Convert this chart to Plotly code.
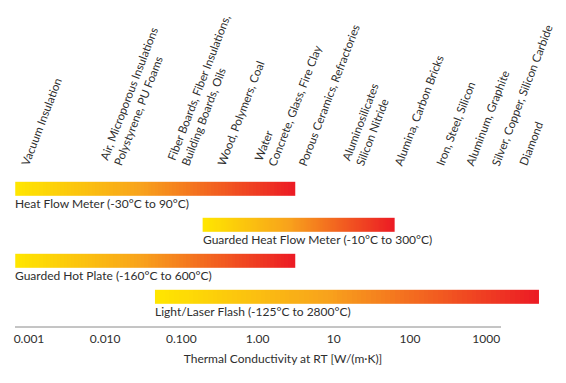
import numpy as np
import plotly.graph_objects as go

# ---- data ----
methods = ["Heat Flow Meter (-30°C to 90°C)",
           "Guarded Heat Flow Meter (-10°C to 300°C)",
           "Guarded Hot Plate (-160°C to 600°C)",
           "Light/Laser Flash (-125°C to 2800°C)"]
range_low = [0.00066, 0.19, 0.00066, 0.045]
range_high = [3.1, 62, 3.1, 4900]

materials = ["Vacuum Insulation",
             "Air, Microporous Insulations<br>Polystyrene, PU Foams",
             "Fiber Boards, Fiber Insulations,<br>Building Boards, Oils",
             "Wood, Polymers, Coal",
             "Water<br>Concrete, Glass, Fire Clay",
             "Porous Ceramics, Refractories",
             "Aluminosilicates<br>Silicon Nitride",
             "Alumina, Carbon Bricks",
             "Iron, Steel, Silicon",
             "Aluminum, Graphite",
             "Silver, Copper, Silicon Carbide",
             "Diamond"]
material_k = [0.000676, 0.00717, 0.0559, 0.250, 0.767, 3.0, 11.0, 53.0, 188, 467, 1023, 2318]

tick_vals = [0.001, 0.01, 0.1, 1, 10, 100, 1000]
tick_text = ["0.001", "0.010", "0.100", "1.00", "10", "100", "1000"]

# ---- style ----
FONT = "Lato"
FS = 12
FS_ROT = 11.5
TXT = "#2e2e2e"
grad = [[0, "#FFE600"], [0.45, "#F8A21C"], [1, "#EC1C24"]]
half = 0.2
ncol = 80

fig = go.Figure()
for i, (lo, hi) in enumerate(zip(range_low, range_high)):
    edges = np.logspace(np.log10(lo), np.log10(hi), ncol + 1)
    z = [list(np.linspace(0, 1, ncol))]
    fig.add_trace(go.Heatmap(x=edges, y=[i - half, i + half], z=z,
                             colorscale=grad, zmin=0, zmax=1,
                             showscale=False, hoverinfo="skip"))
    fig.add_annotation(x=np.log10(lo), y=i + half - 0.06, xref="x", yref="y",
                       text=methods[i], showarrow=False, xshift=-2,
                       xanchor="left", yanchor="top",
                       font=dict(family=FONT, size=FS, color=TXT))

for name, k in zip(materials, material_k):
    fig.add_annotation(x=np.log10(k), y=-0.53, xref="x", yref="y",
                       text=name, showarrow=False, textangle=-69,
                       xanchor="left", yanchor="bottom", align="left",
                       font=dict(family=FONT, size=FS_ROT, color=TXT))

# axis line
fig.add_shape(type="line", xref="paper", yref="paper",
              x0=15 / 566, x1=501 / 566, y0=0, y1=0,
              line=dict(color="#8a8a8a", width=1))

r0 = -3 - 29 / 76.2
r1 = r0 + 566 / 76.2
fig.update_layout(
    width=566, height=383,
    margin=dict(l=0, r=0, t=0, b=56, autoexpand=False),
    paper_bgcolor="white", plot_bgcolor="white",
    showlegend=False,
    xaxis=dict(type="log", range=[r0, r1], tickvals=tick_vals, ticktext=tick_text,
               showgrid=False, zeroline=False, showline=False, ticks="",
               automargin=False, ticklabelstandoff=3,
               tickfont=dict(family=FONT, size=FS, color=TXT),
               title=dict(text="Thermal Conductivity at RT [W/(m·K)]",
                          font=dict(family=FONT, size=FS, color=TXT), standoff=9)),
    yaxis=dict(range=[(327 - 189) / 36, -189 / 36], visible=False, automargin=False),
)

fig.write_html("out.html", config={"displayModeBar": False},
               post_script="document.body.style.margin='0';")
